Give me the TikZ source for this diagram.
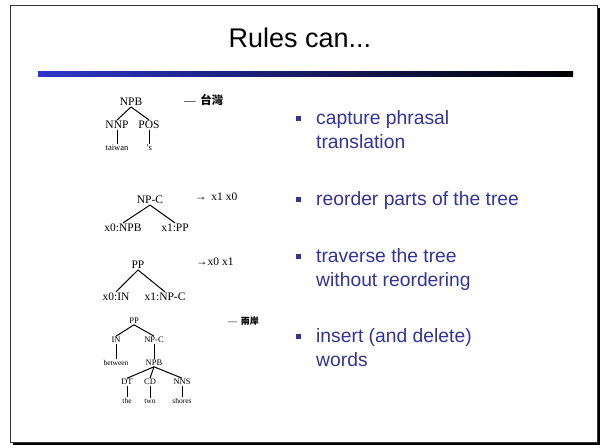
\documentclass[tikz,border=0pt]{standalone}
\usepackage{fontspec}
\setmainfont{Liberation Serif}
\setsansfont{Liberation Sans}
\newfontfamily\cjk{Noto Sans CJK TC}
\definecolor{bulletblue}{RGB}{51,51,153}
\definecolor{barblue}{RGB}{45,55,200}
\begin{document}
\begin{tikzpicture}[x=1pt,y=-1pt,
  tag/.style={font=\fontsize{11.5}{11.5}\selectfont, inner sep=1pt},
  small/.style={font=\fontsize{8.5}{8.5}\selectfont, inner sep=0.8pt},
  word/.style={font=\fontsize{7.5}{7.5}\selectfont, inner sep=0.8pt},
  rhs/.style={font=\fontsize{11.5}{11.5}\selectfont, anchor=west, inner sep=0pt},
  branch/.style={line width=1pt},
  bulletsq/.style={fill=bulletblue, minimum size=5pt, inner sep=0pt},
  item/.style={font=\sffamily\fontsize{19.3}{23.5}\selectfont, text=bulletblue,
               anchor=base west, align=left, inner sep=0pt}]
\useasboundingbox (0,0) rectangle (602,447);

% slide frame with its drop shadow
\fill[black] (13,8) rectangle (600,445);
\fill[white] (10,5) rectangle (597,442);
\draw[line width=0.8pt, black!80] (10,5) rectangle (597,442);

% title and the shaded rule beneath it
\node[font=\sffamily\fontsize{27}{27}\selectfont] (title) at (300,38) {Rules can...};
\shade[left color=barblue, right color=black] (38,71) rectangle (573,76);

% tree 1: NPB(NNP(taiwan) POS('s))
\node[tag] (a0) at (131,102) {NPB};
\node[tag] (a1) at (117,125) {NNP};
\node[tag] (a2) at (149,125) {POS};
\node[small] (a1w) at (117,148) {taiwan};
\node[small] (a2w) at (149,148) {'s};
\node[rhs] (ar) at (184,100) {— \,{\cjk\bfseries 台灣}};
\draw[branch] (a0.south) -- (a1.north);
\draw[branch] (a0.south) -- (a2.north);
\draw[branch] (a1.south) -- (a1w.north);
\draw[branch] (a2.south) -- (a2w.north);

% tree 2: NP-C(x0:NPB x1:PP)
\node[tag] (b0) at (150,200) {NP-C};
\node[tag] (b1) at (123,228) {x0:NPB};
\node[tag] (b2) at (175,228) {x1:PP};
\node[rhs] (br) at (195,197) {→ \,x1 x0};
\draw[branch] (b0.south) -- (b1.north);
\draw[branch] (b0.south) -- (b2.north);

% tree 3: PP(x0:IN x1:NP-C)
\node[tag] (c0) at (138,265) {PP};
\node[tag] (c1) at (116,297) {x0:IN};
\node[tag] (c2) at (165,297) {x1:NP-C};
\node[rhs] (cr) at (196,262) {→x0 x1};
\draw[branch] (c0.south) -- (c1.north);
\draw[branch] (c0.south) -- (c2.north);

% tree 4: PP(IN(between) NP-C(NPB(DT(the) CD(two) NNS(shores))))
\node[small] (d0) at (134,321) {PP};
\node[small] (d1) at (116,340) {IN};
\node[small] (d2) at (154,340) {NP-C};
\node[word] (d1w) at (116,363) {between};
\node[small] (d3) at (154,363) {NPB};
\node[small] (d4) at (127,382) {DT};
\node[small] (d5) at (150,382) {CD};
\node[small] (d6) at (182,382) {NNS};
\node[word] (d4w) at (127,401) {the};
\node[word] (d5w) at (150,401) {two};
\node[word] (d6w) at (182,401) {shores};
\node[rhs, font=\fontsize{9}{9}\selectfont] (dr) at (228,321) {— \,{\cjk\bfseries 兩岸}};
\draw[branch] (d0.south) -- (d1.north);
\draw[branch] (d0.south) -- (d2.north);
\draw[branch] (d1.south) -- (d1w.north);
\draw[branch] (d2.south) -- (d3.north);
\draw[branch] (d3.south) -- (d4.north);
\draw[branch] (d3.south) -- (d5.north);
\draw[branch] (d3.south) -- (d6.north);
\draw[branch] (d4.south) -- (d4w.north);
\draw[branch] (d5.south) -- (d5w.north);
\draw[branch] (d6.south) -- (d6w.north);

% bullet list (a two-line node's base is its last line)
\node[bulletsq] (s1) at (298,118) {};
\node[item] (i1) at (316,148) {capture phrasal\\translation};
\node[bulletsq] (s2) at (298,199) {};
\node[item] (i2) at (316,205.5) {reorder parts of the tree};
\node[bulletsq] (s3) at (298,256) {};
\node[item] (i3) at (316,286) {traverse the tree\\without reordering};
\node[bulletsq] (s4) at (298,336) {};
\node[item] (i4) at (316,366) {insert (and delete)\\words};
\end{tikzpicture}
\end{document}
